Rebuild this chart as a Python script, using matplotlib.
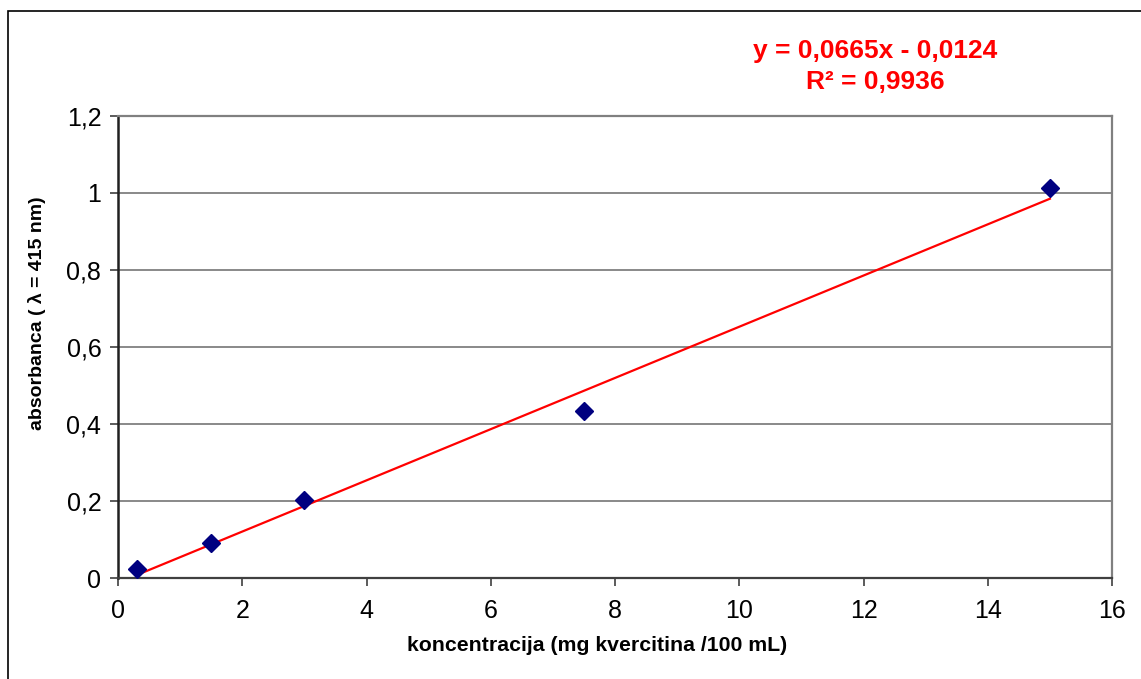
import matplotlib
matplotlib.use("Agg")
import matplotlib.pyplot as plt
from matplotlib.patches import Rectangle
from matplotlib.ticker import FuncFormatter
import numpy as np

plt.rcParams['font.family'] = ['Liberation Sans', 'DejaVu Sans']

# Calibration data: quercetin concentration vs absorbance
concentration = [0.3, 1.5, 3.0, 7.5, 15.0]
absorbance = [0.023, 0.090, 0.203, 0.433, 1.012]

# Linear trendline parameters
slope = 0.0665
intercept = -0.0124
r_squared = 0.9936

x_ticks = [0, 2, 4, 6, 8, 10, 12, 14, 16]
y_ticks = [0, 0.2, 0.4, 0.6, 0.8, 1.0, 1.2]


def comma_fmt(v, pos=None):
    s = f"{v:.1f}".rstrip('0').rstrip('.')
    return s.replace('.', ',')


fig = plt.figure(figsize=(11.41, 6.79), dpi=100)
fig.patch.set_facecolor('white')

# Chart area frame
fig.add_artist(Rectangle((8 / 1141, -0.2), 1.5, 1.2 - 11 / 679,
                         transform=fig.transFigure, fill=False,
                         edgecolor='black', linewidth=1.2))

ax = fig.add_axes([118 / 1141, 101 / 679, 994 / 1141, 462 / 679])
ax.set_xlim(0, 16)
ax.set_ylim(0, 1.2)
ax.set_xticks(x_ticks)
ax.set_yticks(y_ticks)
ax.xaxis.set_major_formatter(FuncFormatter(comma_fmt))
ax.yaxis.set_major_formatter(FuncFormatter(comma_fmt))

ax.grid(axis='y', color='#808080', linewidth=1.3)
ax.set_axisbelow(True)

for side in ('top', 'right'):
    ax.spines[side].set_color('#808080')
    ax.spines[side].set_linewidth(1.6)
ax.spines['left'].set_color('#202020')
ax.spines['left'].set_linewidth(1.8)
ax.spines['bottom'].set_color('#404040')
ax.spines['bottom'].set_linewidth(1.6)

ax.tick_params(axis='both', direction='out', length=6, width=1.2,
               colors='#404040', labelcolor='black', labelsize=18)
ax.tick_params(axis='x', pad=9)
ax.tick_params(axis='y', pad=6)

# Trendline over the measured range
xt = np.array([concentration[0], concentration[-1]])
ax.plot(xt, slope * xt + intercept, color='#ff0000', linewidth=1.6, zorder=3)

ax.plot(concentration, absorbance, linestyle='none', marker='D',
        markersize=8.8, color='#000080', zorder=4, clip_on=False)

ax.set_xlabel('koncentracija (mg kvercitina /100 mL)', fontsize=15.3,
              fontweight='bold')
ax.xaxis.set_label_coords((597 - 118) / 994, (578 - 636) / 462)
ax.set_ylabel('absorbanca ( λ = 415 nm)', fontsize=14, fontweight='bold')
ax.yaxis.set_label_coords((46 - 118) / 994, (578 - 313) / 462)

sign = '-' if intercept < 0 else '+'
eq = f"y = {slope:.4f}x {sign} {abs(intercept):.4f}".replace('.', ',')
r2 = f"R² = {r_squared:.4f}".replace('.', ',')
fig.text(875 / 1141, 1 - 51 / 679, eq, color='#ff0000', fontsize=19,
         fontweight='bold', ha='center', va='center')
fig.text(875 / 1141, 1 - 82 / 679, r2, color='#ff0000', fontsize=19,
         fontweight='bold', ha='center', va='center')

fig.savefig('out.png', dpi=100, facecolor='white')
